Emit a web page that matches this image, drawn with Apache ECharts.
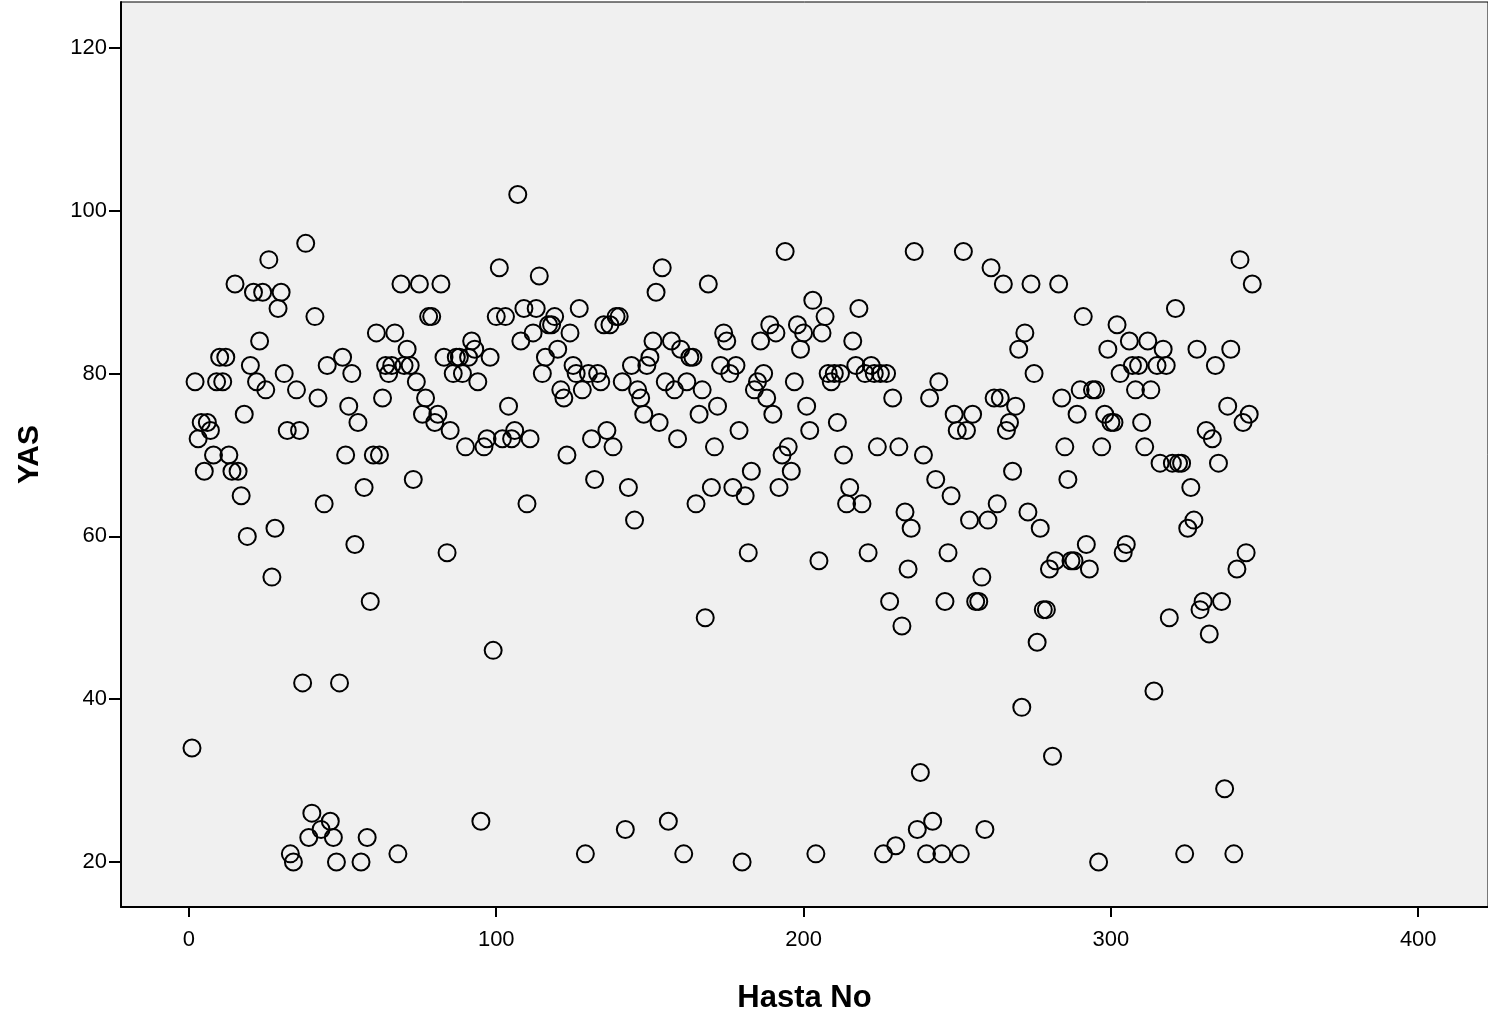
<!DOCTYPE html>
<html>
<head>
<meta charset="utf-8">
<script src="https://cdn.jsdelivr.net/npm/echarts@6/dist/echarts.min.js"></script>
<style>
  html, body { margin: 0; padding: 0; background: #fff; }
  #scatter { width: 1488px; height: 1021px; }
</style>
</head>
<body>
<div id="scatter"></div>
<script>
// Hasta No (patient number)
var hastaNo = [
  1,2,3,4,5,6,7,8,9,10,11,12,13,14,15,16,17,18,19,20,
  21,22,23,24,25,26,27,28,29,30,31,32,33,34,35,36,37,38,39,40,
  41,42,43,44,45,46,47,48,49,50,51,52,53,54,55,56,57,58,59,60,
  61,62,63,64,65,66,67,68,69,70,71,72,73,74,75,76,77,78,79,80,
  81,82,83,84,85,86,87,88,89,90,91,92,93,94,95,96,97,98,99,100,
  101,102,103,104,105,106,107,108,109,110,111,112,113,114,115,116,117,118,119,120,
  121,122,123,124,125,126,127,128,129,130,131,132,133,134,135,136,137,138,139,140,
  141,142,143,144,145,146,147,148,149,150,151,152,153,154,155,156,157,158,159,160,
  161,162,163,164,165,166,167,168,169,170,171,172,173,174,175,176,177,178,179,180,
  181,182,183,184,185,186,187,188,189,190,191,192,193,194,195,196,197,198,199,200,
  201,202,203,204,205,206,207,208,209,210,211,212,213,214,215,216,217,218,219,220,
  221,222,223,224,225,226,227,228,229,230,231,232,233,234,235,236,237,238,239,240,
  241,242,243,244,245,246,247,248,249,250,251,252,253,254,255,256,257,258,259,260,
  261,262,263,264,265,266,267,268,269,270,271,272,273,274,275,276,277,278,279,280,
  281,282,283,284,285,286,287,288,289,290,291,292,293,294,295,296,297,298,299,300,
  301,302,303,304,305,306,307,308,309,310,311,312,313,314,315,316,317,318,319,320,
  321,322,323,324,325,326,327,328,329,330,331,332,333,334,335,336,337,338,339,340,
  341,342,343,344,345,346
];
// YAS (age)
var yas = [
  34,79,72,74,68,74,73,70,79,82, 79,82,70,68,91,68,65,75,60,81,
  90,79,84,90,78,94,55,61,88,90, 80,73,21,20,78,73,42,96,23,26,
  87,77,24,64,81,25,23,20,42,82, 70,76,80,59,74,20,66,23,52,70,
  85,70,77,81,80,81,85,21,91,81, 83,81,67,79,91,75,77,87,87,74,
  75,91,82,58,73,80,82,82,80,71, 82,84,83,79,25,71,72,82,46,87,
  93,72,87,76,72,73,102,84,88,64, 72,85,88,92,80,82,86,86,87,83,
  78,77,70,85,81,80,88,78,21,80, 72,67,80,79,86,73,86,71,87,87,
  79,24,66,81,62,78,77,75,81,82, 84,90,74,93,79,25,84,78,72,83,
  21,79,82,82,64,75,78,50,91,66, 71,76,81,85,84,80,66,81,73,20,
  65,58,68,78,79,84,80,77,86,75, 85,66,70,95,71,68,79,86,83,85,
  76,73,89,21,57,85,87,80,79,80, 74,80,70,64,66,84,81,88,64,80,
  58,81,80,71,80,21,80,52,77,22, 71,49,63,56,61,95,24,31,70,21,
  77,25,67,79,21,52,58,65,75,73, 21,95,73,62,75,52,52,55,24,62,
  93,77,64,77,91,73,74,68,76,83, 39,85,63,91,80,47,61,51,51,56,
  33,57,91,77,71,67,57,57,75,78, 87,59,56,78,78,20,71,75,83,74,
  74,86,80,58,59,84,81,78,81,74, 71,84,78,41,81,69,83,81,50,69,
  88,69,69,21,61,66,62,83,51,52, 73,48,72,81,69,52,29,76,83,21,
  56,94,74,58,75,91
];
var xTicks = [0, 100, 200, 300, 400];
var yTicks = [20, 40, 60, 80, 100, 120];

var points = hastaNo.map(function (h, i) { return [h, yas[i]]; });

var chart = echarts.init(document.getElementById('scatter'));
var fontFam = '"Liberation Sans", Arial, sans-serif';
chart.setOption({
    animation: false,
    backgroundColor: '#ffffff',
    grid: {
        left: 121, right: -3, top: 2, bottom: 114,
        show: true,
        backgroundColor: '#f0f0f0',
        borderColor: '#000',
        borderWidth: 1
    },
    xAxis: {
        type: 'value',
        min: -22.1,
        max: 422.7,
        name: 'Hasta No',
        nameLocation: 'middle',
        nameGap: 76,
        nameTextStyle: { fontFamily: fontFam, fontSize: 31, fontWeight: 'bold', color: '#000' },
        splitLine: { show: false },
        axisLine: { onZero: false, lineStyle: { color: '#000', width: 2 } },
        axisTick: { customValues: xTicks, length: 10, lineStyle: { color: '#000', width: 2 } },
        axisLabel: { customValues: xTicks, margin: 22, fontFamily: fontFam, fontSize: 22, color: '#000' }
    },
    yAxis: {
        type: 'value',
        min: 14.47,
        max: 125.65,
        name: 'YAS',
        nameLocation: 'middle',
        nameRotate: 90,
        nameGap: 76,
        nameTextStyle: { fontFamily: fontFam, fontSize: 30, fontWeight: 'bold', color: '#000' },
        splitLine: { show: false },
        axisLine: { onZero: false, lineStyle: { color: '#000', width: 2 } },
        axisTick: { customValues: yTicks, length: 12, lineStyle: { color: '#000', width: 2 } },
        axisLabel: { customValues: yTicks, margin: 14, fontFamily: fontFam, fontSize: 22, color: '#000' }
    },
    series: [{
        type: 'scatter',
        symbol: 'circle',
        symbolSize: 17,
        itemStyle: { color: 'rgba(0,0,0,0)', borderColor: '#000', borderWidth: 2, opacity: 1 },
        emphasis: { disabled: true },
        data: points
    }]
});
</script>
</body>
</html>
